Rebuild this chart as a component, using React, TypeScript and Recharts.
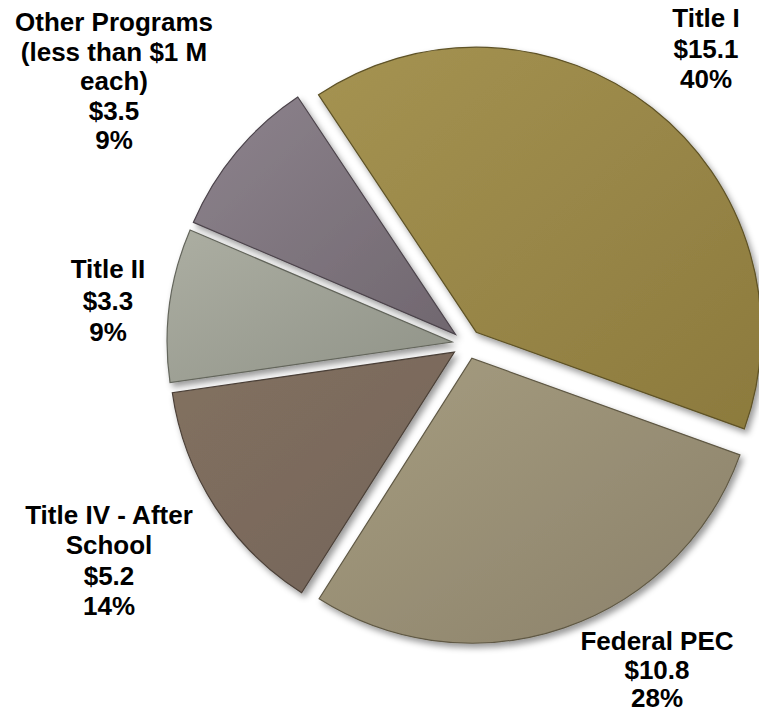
import React from 'react';
import { PieChart, Pie, Cell } from 'recharts';

// ---- data ----
const categories = ['Title I', 'Federal PEC', 'Title IV - After School', 'Title II', 'Other Programs (less than $1 M each)'];
const values = [15.1, 10.8, 5.2, 3.3, 3.5];
const labelNameLines = [
  ['Title I'],
  ['Federal PEC'],
  ['Title IV - After', 'School'],
  ['Title II'],
  ['Other Programs', '(less than $1 M', 'each)'],
];

// ---- styling / layout ----
const gradients = [
  ['#a59352', '#8c7a3d'],
  ['#a69d80', '#8b816a'],
  ['#83715f', '#73645a'],
  ['#acaea2', '#909388'],
  ['#8d838d', '#70676f'],
];
const strokes = ['#5e5226', '#5f5844', '#4b4038', '#64665c', '#4c444b'];
const labelPos = [
  { x: 706, y: 27, gap: 30.5 },
  { x: 657, y: 650, gap: 28.5 },
  { x: 109, y: 524, gap: 30.3 },
  { x: 108, y: 278, gap: 31.5 },
  { x: 114, y: 31, gap: 29.6 },
];

const W = 759;
const H = 713;
const CX = 467;
const CY = 344;
const R = 285;
const EXPLODE = 15;
const START = 123.6;

const data = categories.map((name, i) => ({ name, value: values[i] }));
const total = values.reduce((a, b) => a + b, 0);

// mid angle of each slice (degrees), derived from data
const midAngles: number[] = [];
{
  let acc = START;
  values.forEach((v) => {
    const span = (v / total) * 360;
    midAngles.push(acc - span / 2);
    acc -= span;
  });
}

const renderLabels = (props: any) => {
  const i = props.index;
  const p = labelPos[i];
  const lines = [
    ...labelNameLines[i],
    `$${values[i].toFixed(1)}`,
    `${Math.round((values[i] / total) * 100)}%`,
  ];
  return (
    <text
      key={`lbl-${i}`}
      x={p.x}
      y={p.y}
      textAnchor="middle"
      fill="#000"
      style={{ fontFamily: '"Liberation Sans", Arial, sans-serif', fontWeight: 700, fontSize: 26 }}
    >
      {lines.map((t, k) => (
        <tspan key={k} x={p.x} y={p.y + k * p.gap}>
          {t}
        </tspan>
      ))}
    </text>
  );
};

export default function App() {
  return (
    <div style={{ position: 'absolute', left: 0, top: 0, width: W, height: H, background: '#fff' }}>
      <svg width={0} height={0} style={{ position: 'absolute' }}>
        <defs>
          {gradients.map((g, i) => (
            <linearGradient key={i} id={`grad${i}`} x1="0" y1="0" x2="1" y2="1">
              <stop offset="0%" stopColor={g[0]} />
              <stop offset="100%" stopColor={g[1]} />
            </linearGradient>
          ))}
          <filter id="shadow" x="-20%" y="-20%" width="140%" height="140%">
            <feDropShadow dx="3" dy="4" stdDeviation="3" floodColor="#000" floodOpacity="0.4" />
          </filter>
        </defs>
      </svg>
      <PieChart width={W} height={H} margin={{ top: 0, right: 0, bottom: 0, left: 0 }}>
        {values.map((_, pi) => {
          const rad = (midAngles[pi] * Math.PI) / 180;
          const cx = CX + EXPLODE * Math.cos(rad);
          const cy = CY - EXPLODE * Math.sin(rad);
          const isLast = pi === values.length - 1;
          return (
            <Pie
              key={pi}
              data={data}
              dataKey="value"
              nameKey="name"
              cx={cx}
              cy={cy}
              outerRadius={R}
              innerRadius={0}
              startAngle={START}
              endAngle={START - 360}
              isAnimationActive={false}
              labelLine={false}
              label={isLast ? renderLabels : false}
            >
              {data.map((_, ci) => (
                <Cell
                  key={ci}
                  fill={ci === pi ? `url(#grad${ci})` : 'none'}
                  stroke={ci === pi ? strokes[ci] : 'none'}
                  strokeWidth={ci === pi ? 1.2 : 0}
                  style={ci === pi ? { filter: 'url(#shadow)' } : undefined}
                />
              ))}
            </Pie>
          );
        })}
      </PieChart>
    </div>
  );
}
